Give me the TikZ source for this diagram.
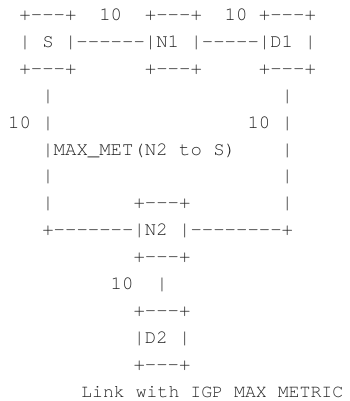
\documentclass[tikz,border=0pt]{standalone}
\usepackage{fontspec}
\newfontfamily\ascfont{TeX Gyre Cursor}[Ligatures=TeXOff]
\tikzset{
  asc/.style={font=\ascfont\fontsize{19}{19}\selectfont, anchor=base west, inner sep=0pt, text=black!85},
  captext/.style={font=\ascfont\fontsize{18.2}{18.2}\selectfont, anchor=base west, inner sep=0pt, text=black!85}
}
\begin{document}
\begin{tikzpicture}[x=1pt,y=-1pt]
\useasboundingbox[fill=white] (0,0) rectangle (350,401);
\node[asc] (r0)  at (19.3,20.5)  {+---+~~10~~+---+~~10~+---+};
\node[asc] (r1)  at (19.3,47.4)  {|~S~|------|N1~|-----|D1~|};
\node[asc] (r2)  at (19.3,74.3)  {+---+~~~~~~+---+~~~~~+---+};
\node[asc] (r3)  at (42.1,101.2) {|~~~~~~~~~~~~~~~~~~~~|};
\node[asc] (r4)  at (7.9,128.1)  {10~|~~~~~~~~~~~~~~~~~10~|};
\node[asc] (r5)  at (42.1,155.0) {|MAX\_MET(N2~to~S)~~~~|};
\node[asc] (r6)  at (42.1,181.9) {|~~~~~~~~~~~~~~~~~~~~|};
\node[asc] (r7)  at (42.1,208.8) {|~~~~~~~+---+~~~~~~~~|};
\node[asc] (r8)  at (42.1,235.7) {+-------|N2~|--------+};
\node[asc] (r9)  at (133.3,262.6) {+---+};
\node[asc] (r10) at (110.5,289.5) {10~~|};
\node[asc] (r11) at (133.3,316.4) {+---+};
\node[asc] (r12) at (133.3,343.3) {|D2~|};
\node[asc] (r13) at (133.3,370.2) {+---+};
\node[captext] (r14) at (81,397.1) {Link~with~IGP~MAX~METRIC};
\end{tikzpicture}
\end{document}
